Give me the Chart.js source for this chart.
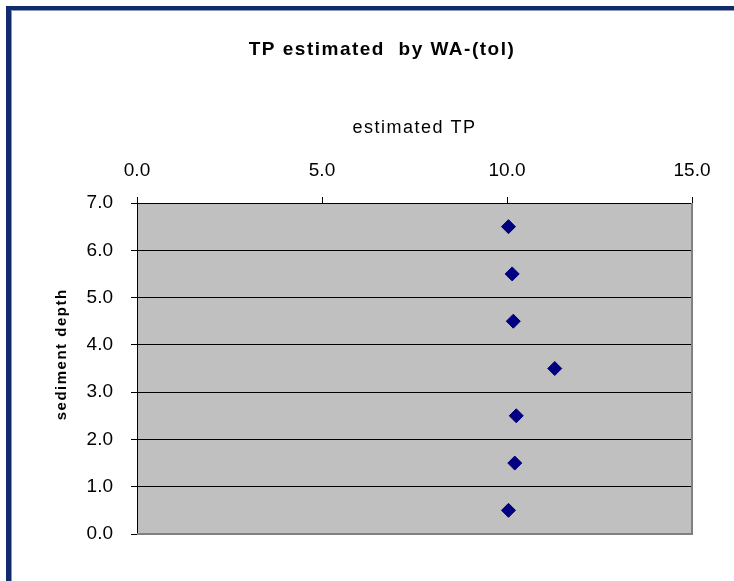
<!DOCTYPE html>
<html>
<head>
<meta charset="utf-8">
<script src="https://cdn.jsdelivr.net/npm/chart.js@4"></script>
<style>
  html, body { margin: 0; padding: 0; background: #ffffff; }
  #wrap { position: relative; width: 734px; height: 581px; overflow: hidden; }
  #chart { position: absolute; left: 0; top: 0; }
  #frame {
    position: absolute; left: 6px; top: 6px; width: 800px; height: 700px;
    border-left: 5px solid #102c6c; border-top: 4px solid #102c6c;
    box-shadow: inset 1px 1px 0 #8a96b4;
    pointer-events: none;
  }
</style>
</head>
<body>
<div id="wrap">
  <canvas id="chart" width="734" height="581"></canvas>
  <div id="frame"></div>
</div>
<script>
// Sediment depth of each sample and its TP estimate from the WA-(tol) model
const depths = [0.5, 1.5, 2.5, 3.5, 4.5, 5.5, 6.5];
const estimatedTP = [10.04, 10.21, 10.25, 11.29, 10.17, 10.14, 10.04];

const chartTitle = 'TP estimated  by WA-(tol)';
const xTitle = 'estimated TP';
const yTitle = 'sediment depth';
const xTicks = [0, 5, 10, 15];
const yTicks = [0, 1, 2, 3, 4, 5, 6, 7];

const FONT = "'Liberation Sans', Arial, sans-serif";

// Grey plot area, white page, and the Excel-style grey right/bottom edge
const plotArea = {
  id: 'plotArea',
  beforeDraw(chart) {
    const { ctx, chartArea: a } = chart;
    ctx.save();
    ctx.fillStyle = '#ffffff';
    ctx.fillRect(0, 0, chart.width, chart.height);
    ctx.fillStyle = '#c0c0c0';
    ctx.fillRect(a.left, a.top, a.right - a.left, a.bottom - a.top);
    ctx.restore();
    // titles are drawn with wider tracking
    ctx.letterSpacing = '1.5px';
  },
  afterDatasetsDraw(chart) {
    const { ctx, chartArea: a } = chart;
    ctx.save();
    ctx.strokeStyle = '#808080';
    ctx.lineWidth = 2;
    ctx.beginPath();
    ctx.moveTo(a.right, a.top);
    ctx.lineTo(a.right, a.bottom);
    ctx.lineTo(a.left, a.bottom);
    ctx.stroke();
    ctx.restore();
    // tick labels use normal tracking
    ctx.letterSpacing = '0px';
  }
};

new Chart(document.getElementById('chart'), {
  type: 'scatter',
  data: {
    datasets: [{
      label: 'TP',
      data: depths.map((d, i) => ({ x: estimatedTP[i], y: d })),
      pointStyle: 'rectRot',
      pointRadius: 7,
      pointHoverRadius: 7,
      backgroundColor: '#000080',
      borderColor: '#000080',
      borderWidth: 1
    }]
  },
  plugins: [plotArea],
  options: {
    responsive: false,
    animation: false,
    events: [],
    layout: { padding: { top: 0, left: 72, right: 42, bottom: 47 } },
    plugins: {
      legend: { display: false },
      tooltip: { enabled: false },
      title: {
        display: true,
        text: chartTitle,
        color: '#000000',
        font: { family: FONT, size: 19, weight: 'bold', lineHeight: 1.2 },
        padding: { top: 38, bottom: 10 }
      }
    },
    scales: {
      x: {
        type: 'linear',
        position: 'top',
        min: 0,
        max: 15,
        afterBuildTicks: s => { s.ticks = xTicks.map(v => ({ value: v })); },
        afterFit: s => { s.height = 132.2; },
        ticks: {
          z: 1,
          color: '#000000',
          padding: 15,
          maxRotation: 0,
          font: { family: FONT, size: 19 },
          callback: v => Number(v).toFixed(1)
        },
        grid: {
          display: true,
          drawOnChartArea: false,
          drawTicks: true,
          tickLength: 6,
          color: '#000000'
        },
        border: { display: true, color: '#000000', width: 1 },
        title: {
          display: true,
          text: xTitle,
          color: '#000000',
          font: { family: FONT, size: 18, lineHeight: 1.2 },
          padding: { top: 46, bottom: 0 }
        }
      },
      y: {
        type: 'linear',
        position: 'left',
        min: 0,
        max: 7,
        afterBuildTicks: s => { s.ticks = yTicks.map(v => ({ value: v })); },
        afterFit: s => { s.width = 65; },
        ticks: {
          z: 1,
          color: '#000000',
          padding: 18,
          font: { family: FONT, size: 19 },
          callback: v => Number(v).toFixed(1)
        },
        grid: {
          display: true,
          drawOnChartArea: true,
          drawTicks: true,
          tickLength: 6,
          color: '#000000',
          lineWidth: 1
        },
        border: { display: true, color: '#000000', width: 1 },
        title: {
          display: true,
          text: '     ' + yTitle,
          color: '#000000',
          font: { family: FONT, size: 15, weight: 'bold', lineHeight: 1.2 },
          padding: { top: -19, bottom: 0 }
        }
      }
    }
  }
});
</script>
</body>
</html>
